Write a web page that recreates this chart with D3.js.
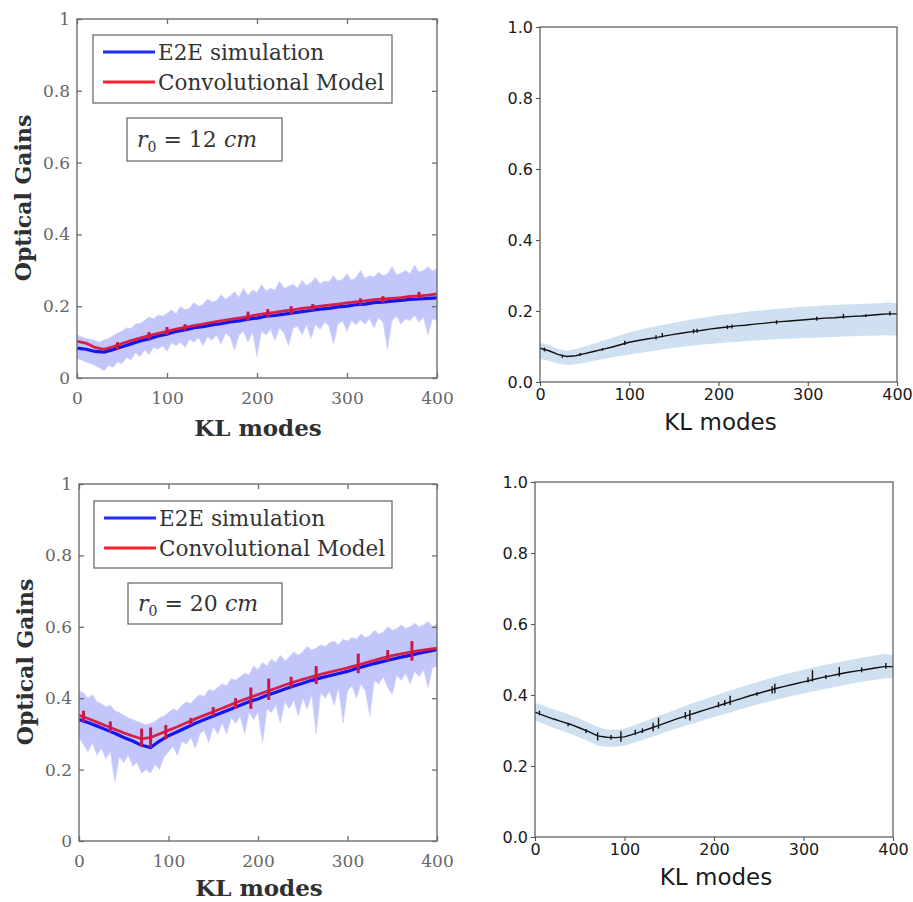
<!DOCTYPE html>
<html><head><meta charset="utf-8">
<script src="https://cdn.jsdelivr.net/npm/d3@7"></script>
<style>body{margin:0;background:#fff}</style>
</head><body><svg id="c" width="913" height="902"></svg>
<script>
// ---------- categories / ticks ----------
const modes10 = d3.range(0, 401, 10);   // KL mode grid for mean curves
const modes5 = d3.range(0, 401, 5);     // KL mode grid for dispersion envelopes
const xTicks = [0, 100, 200, 300, 400];
const yTicks = [0, 0.2, 0.4, 0.6, 0.8, 1];
const yTickLabelsLeft = ["0", "0.2", "0.4", "0.6", "0.8", "1"];
const yTickLabelsRight = ["0.0", "0.2", "0.4", "0.6", "0.8", "1.0"];
const legendLabels = ["E2E simulation", "Convolutional Model"];
const r0Values = ["12", "20"];
const xLabel = "KL modes";
const yLabel = "Optical Gains";

// ---------- r0 = 12 cm, MATLAB panel ----------
const e2e12 = [0.083,0.080,0.074,0.072,0.079,0.087,0.095,0.103,0.109,0.117,0.122,0.130,0.134,0.140,0.143,0.148,0.151,0.156,0.159,0.164,0.167,0.172,0.174,0.178,0.181,0.185,0.188,0.192,0.194,0.198,0.200,0.204,0.206,0.210,0.211,0.214,0.216,0.219,0.220,0.222,0.223];
const conv12 = [0.102,0.097,0.085,0.080,0.087,0.096,0.104,0.111,0.118,0.124,0.130,0.136,0.141,0.146,0.150,0.155,0.159,0.163,0.167,0.171,0.176,0.180,0.183,0.187,0.190,0.194,0.197,0.200,0.203,0.206,0.209,0.212,0.215,0.218,0.220,0.222,0.224,0.227,0.229,0.231,0.234];
const e2eHi12 = [0.12,0.115,0.11,0.108,0.104,0.10,0.106,0.11,0.118,0.125,0.13,0.14,0.138,0.15,0.152,0.16,0.17,0.165,0.175,0.172,0.18,0.19,0.178,0.2,0.19,0.195,0.21,0.2,0.205,0.22,0.212,0.215,0.232,0.22,0.228,0.24,0.225,0.25,0.23,0.245,0.238,0.26,0.242,0.25,0.245,0.27,0.25,0.255,0.262,0.25,0.272,0.258,0.265,0.28,0.262,0.27,0.268,0.285,0.27,0.275,0.29,0.272,0.28,0.3,0.278,0.285,0.282,0.295,0.285,0.29,0.31,0.288,0.292,0.3,0.29,0.315,0.295,0.3,0.31,0.298,0.305];
const e2eLo12 = [0.055,0.05,0.045,0.04,0.035,0.028,0.02,0.035,0.03,0.045,0.04,0.058,0.05,0.07,0.06,0.078,0.065,0.085,0.08,0.09,0.075,0.098,0.09,0.1,0.085,0.108,0.1,0.112,0.09,0.115,0.105,0.12,0.095,0.125,0.115,0.078,0.12,0.13,0.1,0.128,0.06,0.13,0.12,0.135,0.105,0.14,0.125,0.09,0.138,0.145,0.12,0.148,0.11,0.15,0.135,0.155,0.145,0.095,0.15,0.158,0.13,0.16,0.148,0.162,0.15,0.165,0.14,0.168,0.155,0.08,0.16,0.172,0.15,0.165,0.16,0.175,0.155,0.17,0.12,0.165,0.16];
const convSpikeX12 = [45, 80, 100, 120, 190, 212, 238, 262, 315, 340, 380];
const convSpikeLo12 = [0.080,0.108,0.120,0.132,0.160,0.170,0.178,0.188,0.203,0.210,0.222];
const convSpikeHi12 = [0.100,0.128,0.142,0.150,0.185,0.192,0.200,0.206,0.222,0.228,0.240];

// ---------- r0 = 20 cm, MATLAB panel ----------
const e2e20 = [0.34,0.332,0.322,0.312,0.302,0.29,0.28,0.268,0.262,0.28,0.295,0.306,0.318,0.33,0.34,0.35,0.36,0.37,0.38,0.39,0.398,0.408,0.417,0.426,0.434,0.442,0.45,0.457,0.463,0.469,0.475,0.483,0.49,0.497,0.503,0.509,0.515,0.52,0.526,0.531,0.536];
const conv20 = [0.352,0.343,0.333,0.323,0.313,0.303,0.294,0.286,0.29,0.3,0.31,0.32,0.331,0.342,0.352,0.362,0.372,0.382,0.392,0.401,0.41,0.419,0.428,0.437,0.445,0.453,0.46,0.467,0.473,0.479,0.485,0.492,0.499,0.506,0.513,0.519,0.524,0.529,0.533,0.537,0.54];
const e2eHi20 = [0.42,0.415,0.40,0.41,0.39,0.385,0.375,0.38,0.365,0.36,0.352,0.345,0.34,0.335,0.33,0.325,0.33,0.335,0.345,0.35,0.36,0.37,0.365,0.38,0.39,0.385,0.4,0.41,0.405,0.425,0.42,0.43,0.44,0.435,0.455,0.45,0.46,0.47,0.465,0.49,0.48,0.5,0.49,0.51,0.5,0.52,0.505,0.515,0.53,0.52,0.53,0.545,0.535,0.54,0.55,0.545,0.555,0.56,0.55,0.565,0.56,0.57,0.565,0.58,0.57,0.575,0.59,0.58,0.585,0.6,0.59,0.595,0.605,0.595,0.6,0.61,0.6,0.605,0.615,0.6,0.61];
const e2eLo20 = [0.29,0.27,0.25,0.275,0.24,0.26,0.23,0.25,0.165,0.235,0.22,0.24,0.21,0.22,0.19,0.2,0.19,0.215,0.2,0.235,0.25,0.265,0.24,0.28,0.27,0.29,0.26,0.3,0.31,0.275,0.32,0.3,0.33,0.3,0.345,0.33,0.35,0.3,0.36,0.34,0.36,0.275,0.37,0.36,0.38,0.33,0.39,0.37,0.395,0.35,0.4,0.37,0.41,0.3,0.415,0.4,0.42,0.38,0.43,0.33,0.42,0.435,0.4,0.44,0.42,0.35,0.45,0.44,0.46,0.43,0.41,0.465,0.45,0.47,0.44,0.475,0.46,0.48,0.43,0.485,0.49];
const convSpikeX20 = [5, 35, 70, 80, 97, 125, 150, 175, 192, 212, 237, 265, 312, 345, 372];
const convSpikeLo20 = [0.335,0.305,0.265,0.262,0.285,0.325,0.350,0.370,0.370,0.395,0.430,0.440,0.470,0.505,0.505];
const convSpikeHi20 = [0.365,0.335,0.315,0.318,0.325,0.345,0.375,0.400,0.430,0.455,0.460,0.490,0.525,0.535,0.560];

// ---------- r0 = 12 cm, Python panel ----------
const og12 = [0.095,0.088,0.078,0.072,0.074,0.08,0.086,0.092,0.098,0.105,0.112,0.117,0.121,0.125,0.13,0.134,0.138,0.142,0.145,0.149,0.152,0.155,0.158,0.16,0.163,0.165,0.168,0.17,0.172,0.174,0.176,0.178,0.18,0.181,0.183,0.185,0.186,0.188,0.19,0.192,0.192];
const ogHi12 = [0.11,0.105,0.093,0.088,0.093,0.1,0.108,0.116,0.124,0.132,0.14,0.146,0.152,0.157,0.162,0.167,0.172,0.176,0.18,0.184,0.188,0.191,0.194,0.197,0.2,0.202,0.205,0.207,0.209,0.211,0.213,0.214,0.216,0.217,0.218,0.219,0.22,0.221,0.222,0.224,0.222];
const ogLo12 = [0.065,0.06,0.052,0.048,0.05,0.054,0.059,0.064,0.069,0.073,0.077,0.081,0.085,0.089,0.093,0.096,0.099,0.102,0.105,0.107,0.109,0.111,0.113,0.115,0.117,0.118,0.12,0.121,0.122,0.123,0.124,0.125,0.126,0.127,0.128,0.129,0.13,0.13,0.131,0.132,0.13];
const ogSpikeX12 = [5, 25, 45, 70, 95, 130, 137, 172, 176, 210, 215, 265, 310, 340, 365, 392];
const ogSpikeLo12 = [0.086,0.068,0.074,0.088,0.104,0.120,0.126,0.137,0.139,0.149,0.151,0.163,0.173,0.179,0.183,0.187];
const ogSpikeHi12 = [0.097,0.076,0.082,0.096,0.116,0.132,0.138,0.149,0.150,0.160,0.162,0.174,0.184,0.192,0.191,0.199];

// ---------- r0 = 20 cm, Python panel ----------
const og20 = [0.352,0.342,0.333,0.325,0.317,0.307,0.297,0.285,0.281,0.28,0.282,0.29,0.298,0.307,0.316,0.325,0.334,0.342,0.35,0.358,0.366,0.374,0.382,0.39,0.398,0.405,0.412,0.419,0.425,0.431,0.437,0.443,0.449,0.454,0.459,0.464,0.468,0.472,0.476,0.48,0.48];
const ogHi20 = [0.378,0.37,0.36,0.352,0.343,0.333,0.322,0.31,0.303,0.302,0.305,0.314,0.323,0.333,0.343,0.352,0.362,0.371,0.38,0.389,0.398,0.406,0.414,0.422,0.43,0.437,0.445,0.452,0.459,0.465,0.471,0.477,0.483,0.488,0.493,0.498,0.503,0.507,0.511,0.516,0.512];
const ogLo20 = [0.328,0.318,0.308,0.299,0.29,0.28,0.27,0.257,0.254,0.254,0.257,0.265,0.273,0.281,0.29,0.299,0.307,0.315,0.322,0.33,0.338,0.345,0.352,0.36,0.367,0.374,0.381,0.387,0.393,0.399,0.404,0.41,0.415,0.42,0.425,0.43,0.435,0.439,0.443,0.447,0.447];
const ogSpikeX20 = [5, 37, 57, 70, 85, 96, 112, 120, 132, 138, 168, 173, 205, 212, 218, 248, 265, 268, 305, 310, 325, 340, 365, 392];
const ogSpikeLo20 = [0.343,0.312,0.293,0.272,0.274,0.268,0.288,0.293,0.298,0.305,0.333,0.328,0.365,0.370,0.372,0.398,0.404,0.405,0.435,0.438,0.445,0.452,0.464,0.474];
const ogSpikeHi20 = [0.356,0.322,0.304,0.295,0.287,0.298,0.302,0.306,0.322,0.336,0.352,0.358,0.380,0.386,0.398,0.408,0.425,0.432,0.450,0.470,0.456,0.479,0.478,0.490];

// ---------- drawing ----------
const svg = d3.select("#c");
const serif = "'DejaVu Serif', serif";
const sans = "'DejaVu Sans', sans-serif";
let clipId = 0;

function addClip(g, x, y) {
  const id = "clip" + (clipId++);
  g.append("clipPath").attr("id", id).append("rect")
    .attr("x", x.range()[0]).attr("y", y.range()[1])
    .attr("width", x.range()[1] - x.range()[0]).attr("height", y.range()[0] - y.range()[1]);
  return "url(#" + id + ")";
}

function matlabPanel(o) {
  const g = svg.append("g");
  const x = d3.scaleLinear().domain([0, 400]).range([o.x0, o.x1]);
  const y = d3.scaleLinear().domain([0, 1]).range([o.y0, o.y1]);
  const clip = addClip(g, x, y);
  const pg = g.append("g").attr("clip-path", clip);

  pg.append("path").datum(o.hi)
    .attr("d", d3.area().x((d, i) => x(modes5[i])).y1(d => y(d)).y0((d, i) => y(o.lo[i])))
    .attr("fill", "#c3c6fa").attr("stroke", "#d2d4fb").attr("stroke-width", 0.8);

  const line = d3.line().x((d, i) => x(modes10[i])).y(d => y(d));
  pg.append("path").datum(o.e2e).attr("d", line)
    .attr("fill", "none").attr("stroke", "#1414f0").attr("stroke-width", 3.2);
  pg.append("path").datum(o.conv).attr("d", line)
    .attr("fill", "none").attr("stroke", "#d8173f").attr("stroke-width", 2.8).attr("opacity", 0.95);
  pg.selectAll("line.sp").data(o.spX).join("line")
    .attr("x1", d => x(d)).attr("x2", d => x(d))
    .attr("y1", (d, i) => y(o.spLo[i])).attr("y2", (d, i) => y(o.spHi[i]))
    .attr("stroke", "#c8184a").attr("stroke-width", 3);

  // frame
  g.append("rect").attr("x", o.x0).attr("y", o.y1).attr("width", o.x1 - o.x0).attr("height", o.y0 - o.y1)
    .attr("fill", "none").attr("stroke", "#6e6e6e").attr("stroke-width", 1.4);

  const style = a => {
    a.select(".domain").remove();
    a.selectAll(".tick line").attr("stroke", "#6e6e6e").attr("stroke-width", 1.3);
    a.selectAll("text").attr("font-family", serif).attr("font-size", 17).attr("fill", "#666");
  };
  g.append("g").attr("transform", `translate(0,${o.y0})`)
    .call(d3.axisBottom(x).tickValues(xTicks).tickSize(-5).tickPadding(14)).call(style);
  g.append("g").attr("transform", `translate(0,${o.y1})`)
    .call(d3.axisTop(x).tickValues(xTicks).tickSize(-5).tickFormat("")).call(style);
  g.append("g").attr("transform", `translate(${o.x0},0)`)
    .call(d3.axisLeft(y).tickValues(yTicks).tickSize(-5).tickPadding(7).tickFormat((d, i) => yTickLabelsLeft[i])).call(style);
  g.append("g").attr("transform", `translate(${o.x1},0)`)
    .call(d3.axisRight(y).tickValues(yTicks).tickSize(-5).tickFormat("")).call(style);

  // axis labels
  g.append("text").attr("x", (o.x0 + o.x1) / 2 + 1).attr("y", o.xlabY)
    .attr("text-anchor", "middle").attr("dominant-baseline", "central")
    .attr("font-family", serif).attr("font-weight", "bold").attr("font-size", 23).attr("fill", "#303030")
    .text(xLabel);
  g.append("text").attr("transform", `translate(${o.ylabX},${o.ylabY}) rotate(-90)`)
    .attr("text-anchor", "middle").attr("dominant-baseline", "central")
    .attr("font-family", serif).attr("font-weight", "bold").attr("font-size", 22).attr("fill", "#303030")
    .text(yLabel);

  // legend
  const L = o.leg;
  g.append("rect").attr("x", L.x).attr("y", L.y).attr("width", L.w).attr("height", L.h)
    .attr("fill", "#fff").attr("stroke", "#6e6e6e").attr("stroke-width", 1.3);
  const legColors = ["#1f2bff", "#ff1f2e"];
  legendLabels.forEach((lab, i) => {
    const cy = L.y + 17 + i * 30;
    g.append("line").attr("x1", L.x + 10).attr("x2", L.x + 62).attr("y1", cy).attr("y2", cy)
      .attr("stroke", legColors[i]).attr("stroke-width", 2.8);
    g.append("text").attr("x", L.x + 65).attr("y", cy).attr("dominant-baseline", "central")
      .attr("font-family", serif).attr("font-size", 21.5).attr("fill", "#333").text(lab);
  });

  // r0 box
  const R = o.r0;
  g.append("rect").attr("x", R.x).attr("y", R.y).attr("width", R.w).attr("height", R.h)
    .attr("fill", "#fff").attr("stroke", "#6e6e6e").attr("stroke-width", 1.3);
  const t = g.append("text").attr("x", R.x + 10).attr("y", R.y + R.h / 2 + 7)
    .attr("font-family", serif).attr("font-size", 22).attr("fill", "#333");
  t.append("tspan").attr("font-style", "italic").text("r");
  t.append("tspan").attr("font-size", 14).attr("dy", 5).text("0");
  t.append("tspan").attr("dy", -5).text(" = " + o.r0val + " ");
  t.append("tspan").attr("font-style", "italic").text("cm");
}

function pyPanel(o) {
  const g = svg.append("g");
  const x = d3.scaleLinear().domain([0, 400]).range([o.x0, o.x1]);
  const y = d3.scaleLinear().domain([0, 1]).range([o.y0, o.y1]);
  const clip = addClip(g, x, y);
  const pg = g.append("g").attr("clip-path", clip);

  pg.append("path").datum(o.hi)
    .attr("d", d3.area().x((d, i) => x(modes10[i])).y1(d => y(d)).y0((d, i) => y(o.lo[i])))
    .attr("fill", "#cfe1f0");
  pg.append("path").datum(o.mean)
    .attr("d", d3.line().x((d, i) => x(modes10[i])).y(d => y(d)))
    .attr("fill", "none").attr("stroke", "#111").attr("stroke-width", 1.4);
  pg.selectAll("line.sp").data(o.spX).join("line")
    .attr("x1", d => x(d)).attr("x2", d => x(d))
    .attr("y1", (d, i) => y(o.spLo[i])).attr("y2", (d, i) => y(o.spHi[i]))
    .attr("stroke", "#111").attr("stroke-width", 1.4);

  g.append("rect").attr("x", o.x0).attr("y", o.y1).attr("width", o.x1 - o.x0).attr("height", o.y0 - o.y1)
    .attr("fill", "none").attr("stroke", "#555").attr("stroke-width", 1.2);

  const style = a => {
    a.select(".domain").remove();
    a.selectAll(".tick line").attr("stroke", "#555").attr("stroke-width", 1.1);
    a.selectAll("text").attr("font-family", sans).attr("font-size", 16).attr("fill", "#1a1a1a");
  };
  g.append("g").attr("transform", `translate(0,${o.y0})`)
    .call(d3.axisBottom(x).tickValues(xTicks).tickSize(4).tickPadding(3)).call(style);
  g.append("g").attr("transform", `translate(${o.x0},0)`)
    .call(d3.axisLeft(y).tickValues(yTicks).tickSize(4).tickPadding(3).tickFormat((d, i) => yTickLabelsRight[i])).call(style);

  g.append("text").attr("x", (o.x0 + o.x1) / 2 + 2).attr("y", o.xlabY)
    .attr("text-anchor", "middle").attr("dominant-baseline", "central")
    .attr("font-family", sans).attr("font-size", 23).attr("fill", "#1a1a1a").text(xLabel);
}

matlabPanel({x0: 77, x1: 437, y0: 378, y1: 19, e2e: e2e12, conv: conv12, hi: e2eHi12, lo: e2eLo12,
  spX: convSpikeX12, spLo: convSpikeLo12, spHi: convSpikeHi12, xlabY: 427, ylabX: 23, ylabY: 198,
  leg: {x: 93, y: 35, w: 299, h: 68}, r0: {x: 127, y: 118, w: 155, h: 43}, r0val: r0Values[0]});
matlabPanel({x0: 79, x1: 437, y0: 841, y1: 484, e2e: e2e20, conv: conv20, hi: e2eHi20, lo: e2eLo20,
  spX: convSpikeX20, spLo: convSpikeLo20, spHi: convSpikeHi20, xlabY: 887, ylabX: 25, ylabY: 662,
  leg: {x: 94, y: 501, w: 298, h: 67}, r0: {x: 128, y: 583, w: 154, h: 41}, r0val: r0Values[1]});
pyPanel({x0: 540, x1: 897, y0: 382, y1: 27, mean: og12, hi: ogHi12, lo: ogLo12,
  spX: ogSpikeX12, spLo: ogSpikeLo12, spHi: ogSpikeHi12, xlabY: 422});
pyPanel({x0: 535, x1: 893, y0: 837, y1: 482, mean: og20, hi: ogHi20, lo: ogLo20,
  spX: ogSpikeX20, spLo: ogSpikeLo20, spHi: ogSpikeHi20, xlabY: 877});
</script></body></html>
